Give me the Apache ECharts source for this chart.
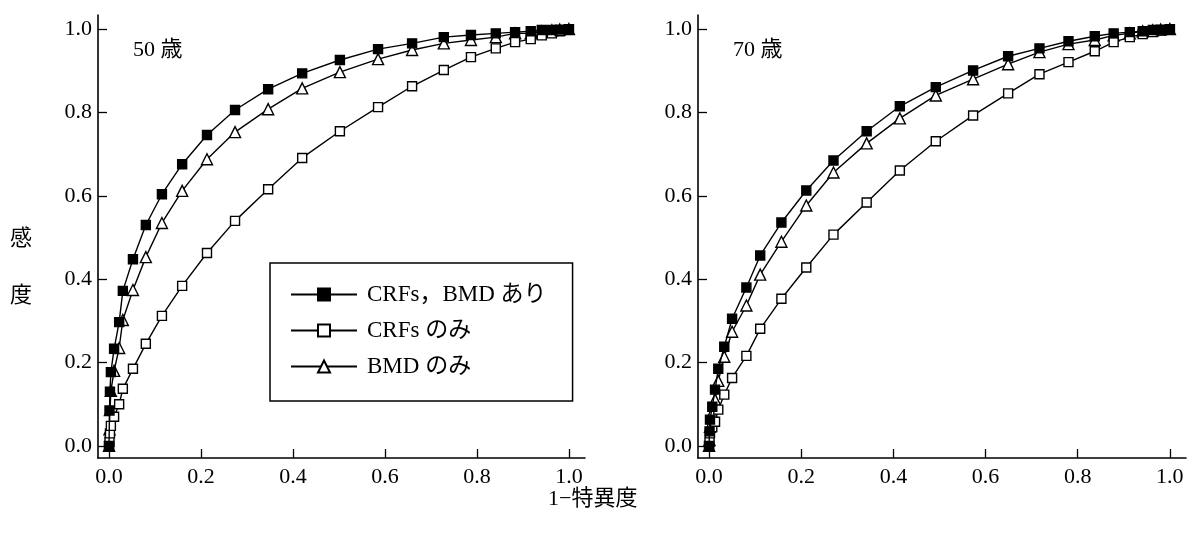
<!DOCTYPE html>
<html>
<head>
<meta charset="utf-8">
<title>ROC</title>
<script src="https://cdn.jsdelivr.net/npm/echarts@6/dist/echarts.min.js"></script>
<style>
  html, body { margin: 0; padding: 0; background: #fff; }
  #chart { width: 1188px; height: 535px; }
</style>
</head>
<body>
<div id="chart"></div>
<script>
// 目盛り
var tickValues = [0, 0.2, 0.4, 0.6, 0.8, 1.0];

// 50歳: 1-特異度
var x50 = [0, 0.001, 0.002, 0.004, 0.011, 0.022, 0.030, 0.052, 0.080, 0.115, 0.159, 0.213, 0.274,
  0.346, 0.420, 0.502, 0.585, 0.659, 0.728, 0.787, 0.841, 0.883, 0.917, 0.941, 0.963, 0.980, 1.0];
var crfBmd50 = [0, 0.085, 0.13, 0.177, 0.233, 0.297, 0.372, 0.448, 0.530, 0.604, 0.676, 0.746, 0.806,
  0.856, 0.894, 0.926, 0.952, 0.966, 0.981, 0.986, 0.990, 0.993, 0.995, 0.998, 0.998, 0.999, 1.0];
var crfOnly50 = [0, 0.01, 0.03, 0.048, 0.07, 0.10, 0.137, 0.185, 0.245, 0.312, 0.384, 0.463, 0.540,
  0.616, 0.691, 0.755, 0.813, 0.863, 0.902, 0.933, 0.954, 0.969, 0.976, 0.985, 0.99, 0.995, 1.0];
var bmdOnly50 = [0, 0.04, 0.086, 0.132, 0.18, 0.235, 0.302, 0.374, 0.453, 0.535, 0.612, 0.688, 0.753,
  0.808, 0.858, 0.897, 0.928, 0.950, 0.966, 0.974, 0.981, 0.99, 0.99, 0.995, 0.997, 0.999, 1.0];

// 70歳
var x70 = [0, 0.001, 0.002, 0.007, 0.013, 0.020, 0.033, 0.050, 0.081, 0.111, 0.157, 0.211, 0.270,
  0.342, 0.414, 0.492, 0.573, 0.649, 0.717, 0.780, 0.837, 0.878, 0.913, 0.941, 0.963, 0.980, 1.0];
var crfBmd70 = [0, 0.035, 0.063, 0.094, 0.135, 0.185, 0.238, 0.305, 0.380, 0.457, 0.536, 0.613, 0.685,
  0.755, 0.815, 0.861, 0.901, 0.935, 0.954, 0.971, 0.983, 0.99, 0.993, 0.995, 0.998, 0.999, 1.0];
var crfOnly70 = [0, 0.01, 0.03, 0.045, 0.058, 0.087, 0.123, 0.163, 0.216, 0.281, 0.353, 0.428, 0.507,
  0.584, 0.661, 0.731, 0.793, 0.846, 0.892, 0.921, 0.947, 0.969, 0.981, 0.988, 0.993, 0.997, 1.0];
var bmdOnly70 = [0, 0.014, 0.046, 0.079, 0.111, 0.156, 0.214, 0.274, 0.337, 0.411, 0.490, 0.577, 0.656,
  0.726, 0.786, 0.841, 0.880, 0.916, 0.945, 0.964, 0.974, 0.985, 0.99, 0.995, 0.997, 0.999, 1.0];

var names = ['CRFs，BMD あり', 'CRFs のみ', 'BMD のみ'];

var serif = "'Liberation Serif', 'Noto Sans CJK JP', serif";

var chart = echarts.init(document.getElementById('chart'));

function pairs(xs, ys) {
  return xs.map(function (x, i) { return [x, ys[i]]; });
}

// 系列の見た目
var marks = [
  { symbol: 'rect', symbolSize: 9, fill: '#000' },
  { symbol: 'rect', symbolSize: 9, fill: '#fff' },
  { symbol: 'triangle', symbolSize: 11, fill: '#fff' }
];

function makeSeries(k, idx, xs, ys) {
  return {
    name: names[k],
    type: 'line',
    xAxisIndex: idx,
    yAxisIndex: idx,
    data: pairs(xs, ys),
    symbol: marks[k].symbol,
    symbolSize: marks[k].symbolSize,
    showAllSymbol: true,
    lineStyle: { color: '#000', width: 1.4 },
    itemStyle: { color: marks[k].fill, borderColor: '#000', borderWidth: 1.4 },
    z: 3 - k
  };
}

function xAxisOpt(idx) {
  return {
    type: 'value', gridIndex: idx, min: -0.024, max: 1.035,
    splitLine: { show: false },
    axisLine: { onZero: false, lineStyle: { color: '#000', width: 1.6 } },
    axisTick: { inside: true, length: 9, customValues: tickValues, lineStyle: { color: '#000', width: 1.3 } },
    axisLabel: {
      customValues: tickValues, margin: 8, color: '#000', fontSize: 22, fontFamily: serif,
      formatter: function (v) { return v.toFixed(1); }
    }
  };
}

function yAxisOpt(idx) {
  return {
    type: 'value', gridIndex: idx, min: -0.029, max: 1.034,
    splitLine: { show: false },
    axisLine: { onZero: false, lineStyle: { color: '#000', width: 1.6 } },
    axisTick: { inside: true, length: 9, customValues: tickValues, lineStyle: { color: '#000', width: 1.3 } },
    axisLabel: {
      customValues: tickValues, margin: 6, color: '#000', fontSize: 22, fontFamily: serif,
      formatter: function (v) { return v.toFixed(1); }
    }
  };
}

var option = {
  animation: false,
  backgroundColor: '#fff',
  grid: [
    { left: 98, top: 15, width: 487, height: 443 },
    { left: 698, top: 15, width: 488, height: 443 }
  ],
  xAxis: [xAxisOpt(0), xAxisOpt(1)],
  yAxis: [yAxisOpt(0), yAxisOpt(1)],
  legend: {
    data: names,
    orient: 'vertical',
    left: 270,
    top: 263,
    padding: [20, 26, 23, 20],
    itemGap: 13,
    itemWidth: 66,
    itemHeight: 15,
    borderColor: '#000',
    borderWidth: 1.5,
    textStyle: { color: '#000', fontSize: 23, fontFamily: serif, padding: [0, 0, 0, 5] }
  },
  graphic: [
    { type: 'text', left: 133, top: 39, style: { text: '50 歳', fontSize: 22, fontFamily: serif, fill: '#000' } },
    { type: 'text', left: 733, top: 39, style: { text: '70 歳', fontSize: 22, fontFamily: serif, fill: '#000' } },
    { type: 'text', left: 10, top: 228, style: { text: '感', fontSize: 22, fontFamily: serif, fill: '#000' } },
    { type: 'text', left: 10, top: 285, style: { text: '度', fontSize: 22, fontFamily: serif, fill: '#000' } },
    { type: 'text', left: 548, top: 488, style: { text: '1−特異度', fontSize: 22, fontFamily: serif, fill: '#000' } }
  ],
  series: [
    makeSeries(0, 0, x50, crfBmd50),
    makeSeries(1, 0, x50, crfOnly50),
    makeSeries(2, 0, x50, bmdOnly50),
    makeSeries(0, 1, x70, crfBmd70),
    makeSeries(1, 1, x70, crfOnly70),
    makeSeries(2, 1, x70, bmdOnly70)
  ]
};

chart.setOption(option);
</script>
</body>
</html>
